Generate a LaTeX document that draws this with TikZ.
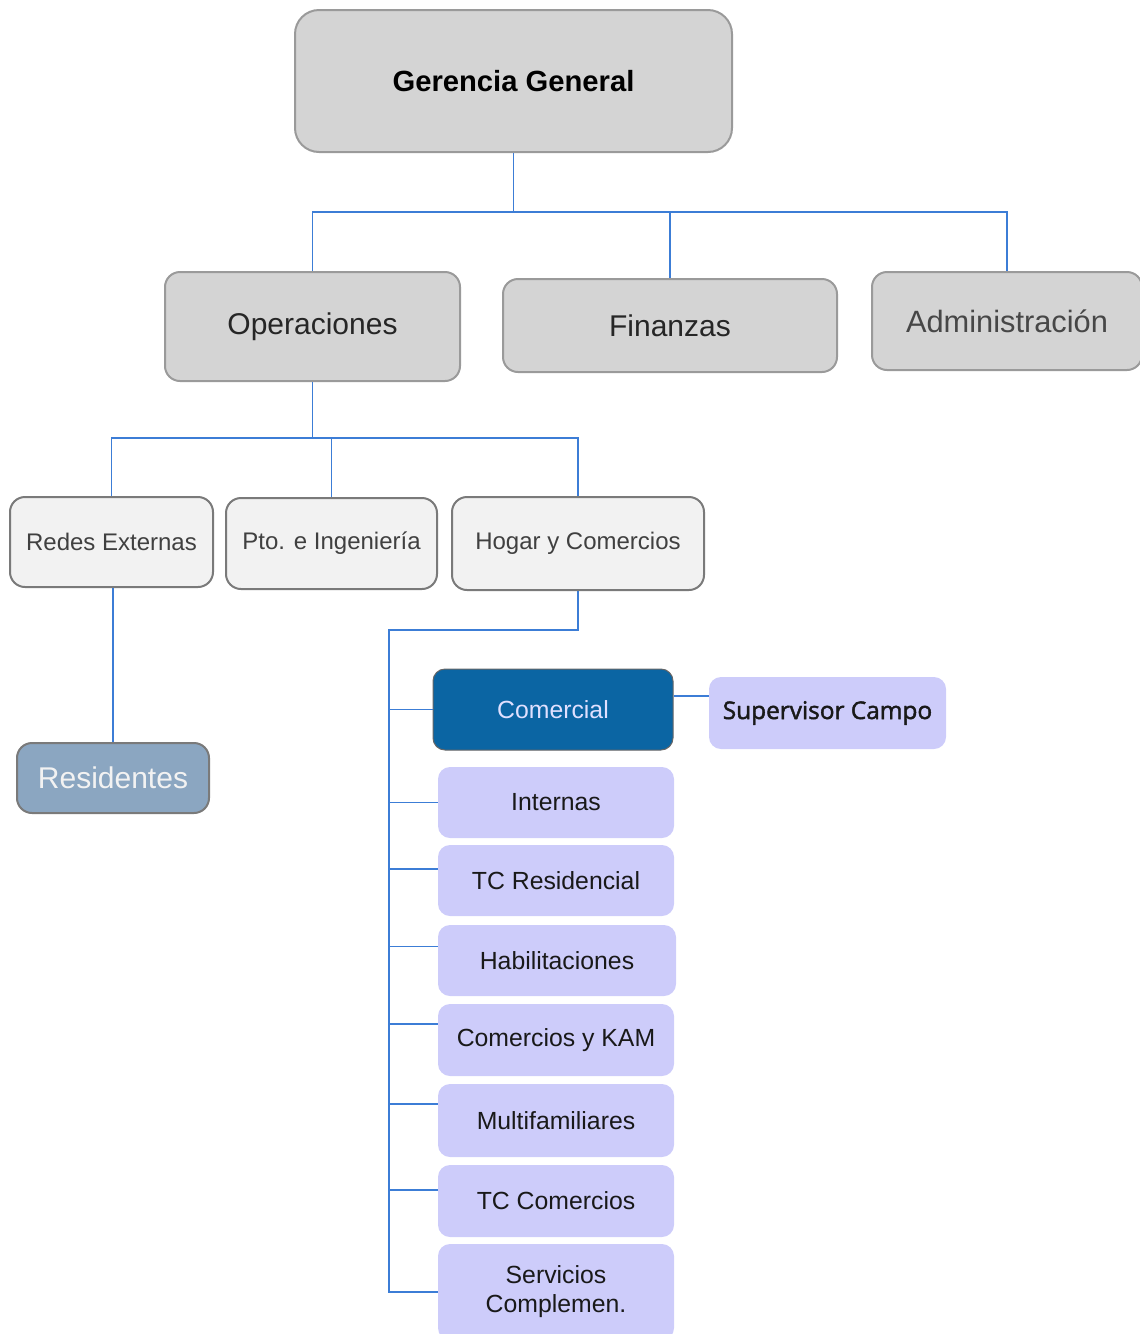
\documentclass[tikz,border=0pt]{standalone}
\usepackage{fontspec}
\setmainfont{Liberation Sans}
\newfontfamily\supfont{Open Sans}[FakeBold=1.8]
\usetikzlibrary{positioning}

\definecolor{linkblue}{HTML}{3C7DD6}
\definecolor{topgray}{HTML}{D4D4D4}
\definecolor{topedge}{HTML}{9A9A9A}
\definecolor{midgray}{HTML}{F2F2F2}
\definecolor{midedge}{HTML}{7A7A7A}
\definecolor{resfill}{HTML}{8BA6C1}
\definecolor{comfill}{HTML}{0B65A3}
\definecolor{lavender}{HTML}{CDCCFA}

\tikzset{
  topbox/.style={draw=topedge, fill=topgray, line width=1pt, rounded corners=7.5pt,
    inner sep=0pt, align=center, text=black!85, font=\fontsize{15}{18}\selectfont},
  midbox/.style={draw=midedge, fill=midgray, line width=1pt, rounded corners=7.5pt,
    inner sep=0pt, align=center, text=black!75, font=\fontsize{12}{14}\selectfont},
  subbox/.style={fill=lavender, rounded corners=6pt, inner sep=0pt, align=center,
    minimum width=118pt, minimum height=35.5pt, text=black!90,
    font=\fontsize{12.4}{15}\selectfont},
  link/.style={draw=linkblue, line width=0.9pt}
}

\begin{document}
\begin{tikzpicture}[x=0.5pt, y=-0.5pt]
	\clip (0,0) rectangle (1140,1334);
	
	% Top level
	\node[topbox, rounded corners=12pt, minimum width=218.5pt, minimum height=71pt,
	  font=\fontsize{14.6}{17}\selectfont\bfseries, text=black] (gg) at (513.5,81) {Gerencia General};
	
	% Second level
	\node[topbox, minimum width=147.5pt, minimum height=54.5pt] (ops) at (312.5,326.5) {Operaciones};
	\node[topbox, minimum width=167pt, minimum height=46.5pt] (fin) at (670,325.5) {Finanzas};
	\node[topbox, minimum width=135pt, minimum height=49pt, text=black!72,
	  font=\fontsize{15.4}{18}\selectfont] (adm) at (1007,321) {Administración};
	
	\coordinate (bus1) at (513.5,212);
	\draw[link] (gg.south) -- (bus1);
	\draw[link] (ops.north) |- (bus1) -| (adm.north);
	\draw[link] (fin.north) -- (fin.north |- bus1);
	
	% Operaciones
	\node[midbox, minimum width=101.5pt, minimum height=45pt] (redes) at (111.5,542) {Redes Externas};
	\node[midbox, minimum width=105.5pt, minimum height=45.5pt] (pto) at (331.5,543.5) {Pto. e Ingeniería};
	\node[midbox, minimum width=126pt, minimum height=46.5pt] (hogar) at (578,543.5) {Hogar y Comercios};
	
	\coordinate (bus2) at (312.5,438);
	\draw[link] (ops.south) -- (bus2);
	\draw[link] (redes.north) |- (bus2) -| (hogar.north);
	\draw[link] (pto.north) -- (pto.north |- bus2);
	
	% Residentes
	\node[midbox, draw=midedge, fill=resfill, minimum width=96pt, minimum height=35pt,
	  text=white!95!black, font=\fontsize{15}{18}\selectfont] (resid) at (113,778) {Residentes};
	\draw[link] (resid.north |- redes.south) -- (resid.north);
	
	% Hogar y Comercios
	\node[subbox, draw=black!60, line width=0.5pt, fill=comfill, minimum width=120pt, minimum height=40.5pt,
	  text=white!88!blue] (comercial) at (553,709.5) {Comercial};
	\node[subbox, minimum width=118.5pt, minimum height=36pt, font=\supfont\fontsize{12.2}{15}\selectfont]
	  (superv) at (827.5,713) {Supervisor Campo};
	\node[subbox] (internas) at (556,802.5) {Internas};
	\node[subbox] (tcres) at (556,880.5) {TC Residencial};
	\node[subbox, minimum width=119pt] (habil) at (557,960.5) {Habilitaciones};
	\node[subbox, minimum height=36pt] (comkam) at (556,1040) {Comercios y KAM};
	\node[subbox, minimum height=36.5pt] (multi) at (556,1120.5) {Multifamiliares};
	\node[subbox, minimum height=36pt] (tccom) at (556,1201) {TC Comercios};
	\node[subbox, minimum height=48pt, font=\fontsize{12.4}{14.5}\selectfont] (serv) at (556,1292) {Servicios\\Complemen.};
	
	\coordinate (spine) at (389,630);
	\draw[link] (hogar.south) |- (spine) -- (spine |- serv.west) -- (serv.west);
	\draw[link] (spine |- comercial.west) -- (comercial.west);
	\draw[link] ([yshift=6.75pt]comercial.east) -- ([yshift=8.5pt]superv.west);
	\draw[link] (spine |- internas.west) -- (internas.west);
	\draw[link] (spine |- tcres.west) ++(0,-11.5) -- ([yshift=5.75pt]tcres.west);
	\draw[link] (spine |- habil.west) ++(0,-14) -- ([yshift=7pt]habil.west);
	\draw[link] (spine |- comkam.west) ++(0,-16) -- ([yshift=8pt]comkam.west);
	\draw[link] (spine |- multi.west) ++(0,-16.5) -- ([yshift=8.25pt]multi.west);
	\draw[link] (spine |- tccom.west) ++(0,-11) -- ([yshift=5.5pt]tccom.west);
\end{tikzpicture}
\end{document}
